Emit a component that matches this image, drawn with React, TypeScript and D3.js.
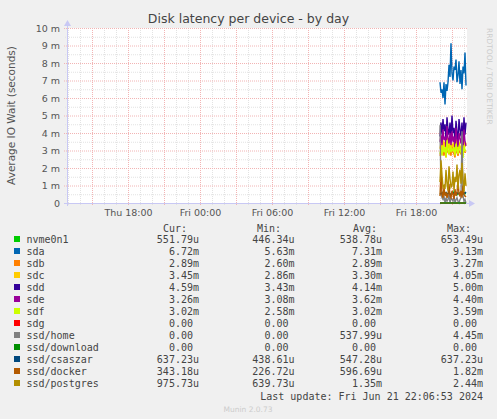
import { useEffect, useRef } from "react";
import * as d3 from "d3";

// values are in milliseconds, one sample every 5 minutes from Fri 20:00
const seriesNames = [
  "nvme0n1", "sda", "sdb", "sdc", "sdd", "sde", "sdf", "sdg",
  "ssd/home", "ssd/download", "ssd/csaszar", "ssd/docker", "ssd/postgres",
];
const seriesColors = [
  "#00cc00", "#0066b3", "#ff8000", "#ffcc00", "#330099", "#990099", "#ccff00", "#ff0000",
  "#808080", "#008f00", "#00487d", "#b35a00", "#b38f00",
];
const nvme0n1 = [0.52, 0.55, 0.48, 0.60, 0.53, 0.50, 0.57, 0.46, 0.54, 0.62, 0.51, 0.49, 0.58, 0.53, 0.65, 0.50, 0.55, 0.47, 0.56, 0.52, 0.59, 0.51, 0.54, 0.49, 0.57, 0.53, 0.55];
const sda = [6.9, 6.3, 6.5, 6.0, 6.9, 5.63, 6.8, 6.4, 6.9, 7.9, 7.2, 9.13, 7.4, 7.0, 7.8, 7.6, 8.2, 6.9, 7.3, 8.1, 6.8, 7.6, 6.5, 7.8, 7.4, 8.6, 6.72];
const sdb = [2.7, 2.9, 2.8, 3.0, 2.7, 3.1, 2.6, 3.2, 2.9, 2.8, 3.0, 2.7, 3.27, 2.9, 2.8, 2.6, 3.1, 2.9, 2.7, 3.0, 2.9, 2.8, 3.0, 2.7, 3.1, 2.9, 2.89];
const sdc = [3.1, 3.4, 3.0, 3.6, 3.2, 3.5, 2.9, 4.05, 3.3, 3.1, 3.6, 3.0, 3.4, 3.2, 3.5, 2.9, 3.7, 3.3, 3.0, 3.5, 3.2, 3.1, 3.4, 2.86, 3.6, 3.2, 3.45];
const sdd = [3.8, 4.6, 3.9, 4.8, 4.1, 4.5, 3.6, 4.9, 4.2, 3.9, 4.6, 3.7, 5.0, 4.0, 4.3, 3.5, 4.7, 4.1, 3.43, 4.8, 4.2, 3.8, 4.6, 3.5, 4.9, 3.9, 4.59];
const sde = [3.5, 3.9, 3.3, 4.2, 3.6, 3.8, 3.2, 4.4, 3.7, 3.4, 4.0, 3.3, 4.1, 3.5, 3.8, 3.1, 4.3, 3.6, 3.2, 4.0, 3.7, 3.4, 3.9, 3.08, 4.2, 3.5, 3.26];
const sdf = [2.8, 3.1, 2.7, 3.3, 2.9, 3.2, 2.6, 3.59, 3.0, 2.8, 3.3, 2.9, 3.1, 3.0, 3.2, 2.7, 3.4, 3.0, 2.8, 3.2, 3.1, 2.9, 3.1, 2.58, 3.3, 3.0, 3.02];
const sdg = [0, 0, 0, 0, 0, 0, 0, 0, 0, 0, 0, 0, 0, 0, 0, 0, 0, 0, 0, 0, 0, 0, 0, 0, 0, 0, 0];
const ssdHome = [4.45, 0.6, 0.3, 0.2, 0.4, 0, 0.3, 0.1, 0.2, 0.5, 0, 0.3, 0.2, 0.1, 0.4, 0, 0.2, 0.3, 0.1, 0, 0.2, 0.3, 4.1, 0.4, 0.1, 0.2, 0];
const ssdDownload = [0, 0, 0, 0, 0, 0, 0, 0, 0, 0, 0, 0, 0, 0, 0, 0, 0, 0, 0, 0, 0, 0, 0, 0, 0, 0, 0];
const ssdCsaszar = [0.55, 0.52, 0.58, 0.49, 0.56, 0.53, 0.60, 0.47, 0.54, 0.57, 0.51, 0.44, 0.55, 0.58, 0.52, 0.56, 0.50, 0.59, 0.53, 0.55, 0.48, 0.57, 0.54, 0.52, 0.58, 0.56, 0.64];
const ssdDocker = [0.4, 1.82, 0.5, 0.3, 0.9, 0.4, 0.6, 0.3, 0.5, 1.1, 0.4, 0.3, 0.7, 0.5, 0.23, 0.8, 0.4, 0.6, 1.3, 0.5, 0.4, 0.7, 0.3, 1.0, 0.5, 0.4, 0.34];
const ssdPostgres = [1.2, 2.44, 1.6, 0.9, 1.0, 0.8, 1.9, 1.1, 0.7, 2.1, 1.4, 0.9, 1.0, 1.8, 0.7, 1.5, 1.2, 2.2, 0.8, 1.6, 1.9, 1.1, 2.3, 1.4, 0.64, 1.7, 0.98];

// legend table text
const curCol = ["551.79u", "6.72m", "2.89m", "3.45m", "4.59m", "3.26m", "3.02m", "0.00", "0.00", "0.00", "637.23u", "343.18u", "975.73u"];
const minCol = ["446.34u", "5.63m", "2.60m", "2.86m", "3.43m", "3.08m", "2.58m", "0.00", "0.00", "0.00", "438.61u", "226.72u", "639.73u"];
const avgCol = ["538.78u", "7.31m", "2.89m", "3.30m", "4.14m", "3.62m", "3.02m", "0.00", "537.99u", "0.00", "547.28u", "596.69u", "1.35m"];
const maxCol = ["653.49u", "9.13m", "3.27m", "4.05m", "5.00m", "4.40m", "3.59m", "0.00", "4.45m", "0.00", "637.23u", "1.82m", "2.44m"];
const yTicks = [0, 1, 2, 3, 4, 5, 6, 7, 8, 9, 10];

const allSeries = [nvme0n1, sda, sdb, sdc, sdd, sde, sdf, sdg, ssdHome, ssdDownload, ssdCsaszar, ssdDocker, ssdPostgres];

const W = 497;
const H = 419;

export default function App() {
  const svgRef = useRef<SVGSVGElement>(null);

  useEffect(() => {
    if (!svgRef.current) return;
    const svg = d3.select(svgRef.current);
    svg.selectAll("*").remove();

    const sans = "'DejaVu Sans', sans-serif";
    const mono = "'DejaVu Sans Mono', monospace";
    const left = 67, right = 467, top = 28, bottom = 203;

    const start = new Date(2024, 5, 20, 12, 55);
    const end = new Date(2024, 5, 21, 22, 15);
    const dataStart = new Date(2024, 5, 21, 20, 0);

    const x = d3.scaleTime().domain([start, end]).range([left, right]);
    const y = d3.scaleLinear().domain([0, 10]).range([bottom, top]);

    svg.append("rect").attr("width", W).attr("height", H).attr("fill", "#f0f0f0");
    svg.append("rect")
      .attr("x", left).attr("y", top)
      .attr("width", right - left).attr("height", bottom - top)
      .attr("fill", "#fff");

    // grid: minor every hour / half unit, major every 3 hours / unit
    const hours = d3.timeHour.range(d3.timeHour.ceil(start), end);
    const g = svg.append("g");
    hours.forEach(h => {
      const major = h.getHours() % 3 === 0;
      g.append("line")
        .attr("x1", x(h) + 0.5).attr("x2", x(h) + 0.5)
        .attr("y1", top).attr("y2", bottom + (major ? 3 : 2))
        .attr("stroke", major ? "#f2b4b4" : "#e2e2e2")
        .attr("stroke-dasharray", "1,1");
    });
    d3.range(0, 10.01, 0.5).forEach(v => {
      const major = Number.isInteger(v);
      g.append("line")
        .attr("x1", left - (major ? 3 : 2)).attr("x2", right)
        .attr("y1", y(v) + 0.5).attr("y2", y(v) + 0.5)
        .attr("stroke", major ? "#f2b4b4" : "#e2e2e2")
        .attr("stroke-dasharray", "1,1");
    });

    // axes with arrows
    const axisColor = "#c8c8f4";
    svg.append("line").attr("x1", left - 3).attr("x2", right + 4)
      .attr("y1", bottom + 0.5).attr("y2", bottom + 0.5).attr("stroke", axisColor);
    svg.append("path")
      .attr("d", `M${right + 8},${bottom + 0.5} L${right + 2},${bottom - 3} L${right + 2},${bottom + 4} Z`)
      .attr("fill", axisColor);
    svg.append("line").attr("x1", left + 0.5).attr("x2", left + 0.5)
      .attr("y1", bottom + 3).attr("y2", top - 4).attr("stroke", axisColor);
    svg.append("path")
      .attr("d", `M${left + 0.5},${top - 8} L${left - 3},${top - 2} L${left + 4},${top - 2} Z`)
      .attr("fill", axisColor);

    // tick labels
    svg.append("g").selectAll("text")
      .data(yTicks)
      .enter()
      .append("text")
      .attr("x", 60)
      .attr("y", d => y(d) + 3.5)
      .attr("text-anchor", "end")
      .attr("font-family", sans)
      .attr("font-size", 9.5)
      .attr("fill", "#555")
      .text(d => (d === 0 ? "0" : `${d} m`));

    const fmt = d3.timeFormat("%a %H:%M");
    svg.append("g").selectAll("text")
      .data(x.ticks(d3.timeHour.every(6)!))
      .enter()
      .append("text")
      .attr("x", d => x(d) + 0.5)
      .attr("y", 215.5)
      .attr("text-anchor", "middle")
      .attr("font-family", sans)
      .attr("font-size", 9.5)
      .attr("fill", "#555")
      .text(d => fmt(d));

    // title and labels
    svg.append("text")
      .attr("x", 248.5).attr("y", 23)
      .attr("text-anchor", "middle")
      .attr("font-family", sans).attr("font-size", 12.5)
      .attr("fill", "#444")
      .text("Disk latency per device - by day");
    svg.append("text")
      .attr("transform", `translate(15,${(top + bottom) / 2}) rotate(-90)`)
      .attr("text-anchor", "middle")
      .attr("font-family", sans).attr("font-size", 10.5)
      .attr("fill", "#555")
      .text("Average IO Wait (seconds)");
    svg.append("text")
      .attr("transform", `translate(487,28) rotate(90)`)
      .attr("font-family", sans).attr("font-size", 7.5)
      .attr("fill", "#ccc")
      .text("RRDTOOL / TOBI OETIKER");

    // series lines
    const line = d3.line<number>()
      .x((_, i) => x(d3.timeMinute.offset(dataStart, i * 5)))
      .y(d => y(d));
    allSeries.forEach((vals, si) => {
      svg.append("path")
        .attr("fill", "none")
        .attr("stroke", seriesColors[si])
        .attr("stroke-width", 1.4)
        .attr("d", line(vals));
    });

    // legend
    const headers: [string, number][] = [["Cur:", 163], ["Min:", 257], ["Avg:", 353], ["Max:", 447]];
    headers.forEach(([t, hx]) => {
      svg.append("text").attr("x", hx).attr("y", 231.8)
        .attr("font-family", mono).attr("font-size", 10).attr("fill", "#444").text(t);
    });
    const cols: [string[], number][] = [[curCol, 199], [minCol, 294.5], [avgCol, 382], [maxCol, 483]];
    seriesNames.forEach((name, i) => {
      const ry = 239 + i * 12;
      svg.append("rect").attr("x", 14).attr("y", ry - 3).attr("width", 6).attr("height", 6)
        .attr("fill", seriesColors[i]);
      svg.append("text").attr("x", 26.5).attr("y", ry + 3.5)
        .attr("font-family", mono).attr("font-size", 10).attr("fill", "#444").text(name);
      cols.forEach(([col, cx]) => {
        const v = col[i];
        const hasUnit = /[um]$/.test(v);
        svg.append("text").attr("x", hasUnit ? cx : cx - 6).attr("y", ry + 3.5)
          .attr("text-anchor", "end")
          .attr("font-family", mono).attr("font-size", 10).attr("fill", "#444").text(v);
      });
    });
    svg.append("text").attr("x", 483).attr("y", 400)
      .attr("text-anchor", "end")
      .attr("font-family", mono).attr("font-size", 10).attr("fill", "#444")
      .text("Last update: Fri Jun 21 22:06:53 2024");
    svg.append("text").attr("x", 248).attr("y", 411.5)
      .attr("text-anchor", "middle")
      .attr("font-family", sans).attr("font-size", 7.5).attr("fill", "#ccc")
      .text("Munin 2.0.73");
  }, []);

  return (
    <div style={{ position: "absolute", left: 0, top: 0 }}>
      <svg ref={svgRef} width={W} height={H}></svg>
    </div>
  );
}
